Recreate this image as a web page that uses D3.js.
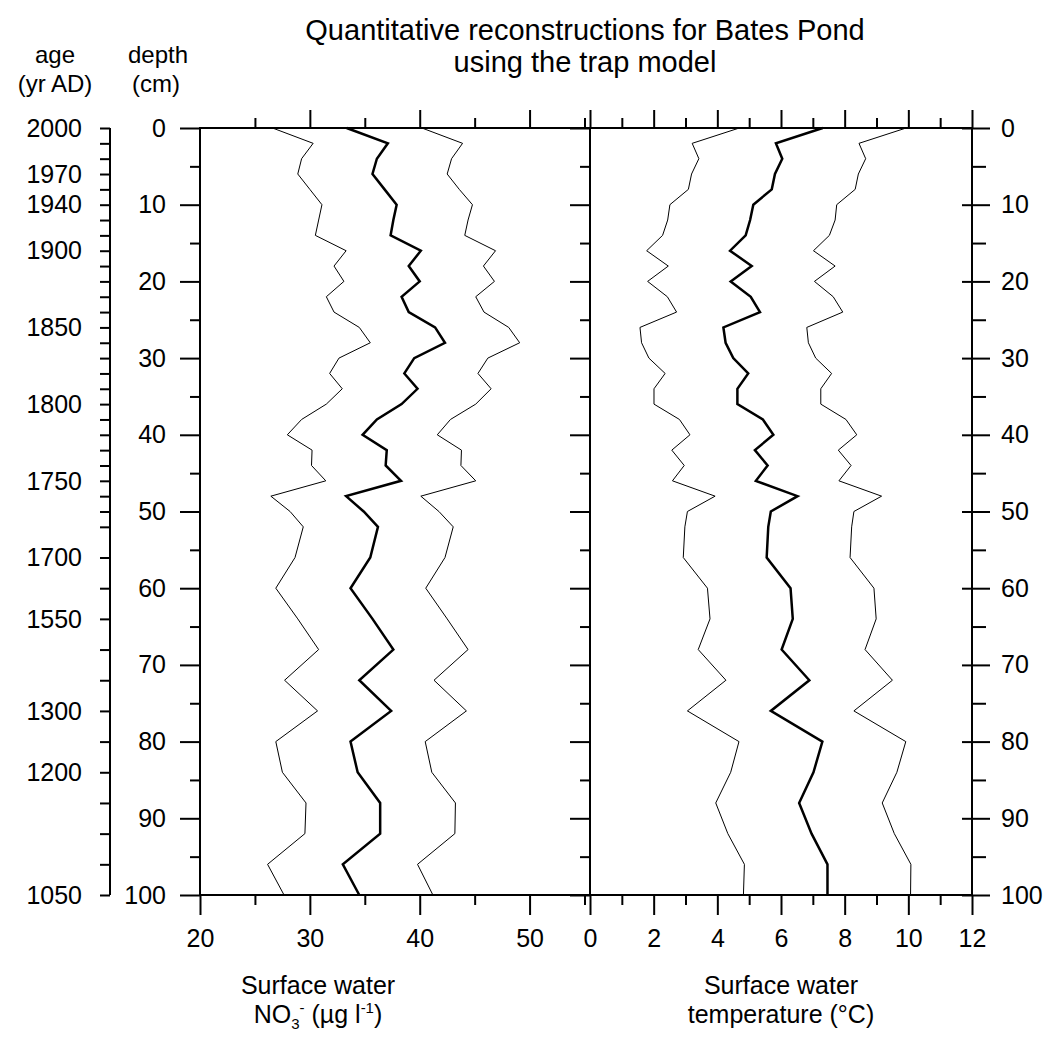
<!DOCTYPE html>
<html>
<head>
<meta charset="utf-8">
<script src="https://cdn.jsdelivr.net/npm/d3@7"></script>
<style>
  html, body { margin: 0; padding: 0; background: #fff; }
  svg { display: block; font-family: "Liberation Sans", Arial, sans-serif; }
</style>
</head>
<body>
<svg id="chart" width="1062" height="1040"></svg>
<script>
// ---- data (depth in cm) ----
const depths = [0,2,4,6,8,10,12,14,16,18,20,22,24,26,28,30,32,34,36,38,40,42,44,46,48,50,52,56,60,64,68,72,76,80,84,88,92,96,100];

const no3Mean  = [33.35,37.1,36.1,35.7,36.8,37.9,37.6,37.35,40.1,39.0,40.0,38.35,39.0,41.4,42.3,39.5,38.6,39.8,38.35,36.1,34.8,37.0,36.9,38.3,33.3,34.9,36.2,35.5,33.7,35.7,37.6,34.5,37.4,33.7,34.35,36.4,36.4,33.0,34.5];
const no3Lower = [26.6,30.3,29.25,28.9,30.0,31.1,30.8,30.5,33.3,32.2,33.1,31.5,32.2,34.5,35.5,32.65,31.8,32.95,31.5,29.25,27.95,30.2,30.15,31.45,26.45,28.2,29.4,28.65,26.9,28.9,30.8,27.7,30.7,26.9,27.5,29.65,29.55,26.15,27.65];
const no3Upper = [40.2,43.9,42.9,42.5,43.6,44.8,44.4,44.1,46.9,45.8,46.8,45.1,45.85,48.1,49.1,46.2,45.3,46.5,45.1,42.8,41.6,43.8,43.75,45.1,40.1,41.75,43.05,42.3,40.55,42.5,44.4,41.3,44.25,40.5,41.1,43.25,43.2,39.8,41.2];

const tempMean  = [7.31,5.84,6.04,5.81,5.71,5.13,5.03,4.89,4.40,5.08,4.42,5.05,5.34,4.19,4.26,4.50,4.97,4.63,4.63,5.43,5.76,5.18,5.58,5.21,6.52,5.68,5.60,5.55,6.30,6.37,6.02,6.89,5.68,7.30,7.02,6.57,6.96,7.46,7.46];
const tempLower = [4.69,3.21,3.42,3.19,3.09,2.51,2.44,2.28,1.78,2.46,1.81,2.43,2.72,1.57,1.62,1.85,2.36,2.01,2.01,2.81,3.14,2.57,2.96,2.59,3.93,3.06,2.98,2.93,3.69,3.77,3.40,4.27,3.06,4.68,4.42,3.95,4.33,4.85,4.82];
const tempUpper = [9.93,8.45,8.66,8.43,8.33,7.75,7.70,7.52,7.02,7.70,7.05,7.64,7.94,6.81,6.86,7.09,7.59,7.25,7.25,8.04,8.38,7.80,8.20,7.82,9.16,8.29,8.22,8.17,8.92,8.99,8.64,9.50,8.29,9.92,9.64,9.18,9.56,10.08,10.07];

// ---- axes / ticks ----
const depthMajor = [0,10,20,30,40,50,60,70,80,90,100];
const depthMinor = [5,15,25,35,45,55,65,75,85,95];
const ageTickDepths = [0,2,4,6,8,10,12,14,16,18,20,22,24,26,28,30,32,34,36,38,40,42,44,46,48,50,52,56,60,64,68,72,76,80,84,88,92,96,100];
const ageLabelDepths = [0,6,10,16,26,36,46,56,64,76,84,100];
const ageLabels = ["2000","1970","1940","1900","1850","1800","1750","1700","1550","1300","1200","1050"];
const no3Major = [20,30,40,50];
const no3Minor = [25,35,45,55];
const tempMajor = [0,2,4,6,8,10,12];
const tempMinor = [1,3,5,7,9,11];

const svg = d3.select("#chart");

const y  = d3.scaleLinear().domain([0,100]).range([128,895]);
const xL = d3.scaleLinear().domain([20,55.5]).range([200,590]);
const xR = d3.scaleLinear().domain([0,12]).range([590,972]);

const FS = 25;
function styleAxis(g, labels) {
  g.select(".domain").remove();
  g.selectAll(".tick line").attr("stroke","#000").attr("stroke-width",2);
  g.selectAll(".tick text").attr("fill","#000").attr("font-size",FS)
    .attr("font-family",'"Liberation Sans", Arial, sans-serif');
  if (!labels) g.selectAll(".tick text").remove();
}
function addAxis(axis, tx, ty, labels) {
  const g = svg.append("g").attr("transform",`translate(${tx},${ty})`).call(axis);
  styleAxis(g, labels);
  return g;
}

// depth axis (left of left panel)
addAxis(d3.axisLeft(y).tickValues(depthMajor).tickSize(20).tickPadding(14), 200, 0, true);
addAxis(d3.axisLeft(y).tickValues(depthMinor).tickSize(10), 200, 0, false);
// inner ticks on right edge of left panel
addAxis(d3.axisLeft(y).tickValues(depthMajor).tickSize(20), 590, 0, false);
addAxis(d3.axisLeft(y).tickValues(depthMinor).tickSize(10), 590, 0, false);
// right-hand depth axis
addAxis(d3.axisRight(y).tickValues(depthMajor).tickSize(18).tickPadding(11), 972, 0, true);
addAxis(d3.axisLeft(y).tickValues(depthMajor).tickSize(10), 972, 0, false);
addAxis(d3.axisRight(y).tickValues(depthMinor).tickSize(14), 972, 0, false);

// top ticks
addAxis(d3.axisTop(xL).tickValues(no3Major.slice(1)).tickSize(18), 0, 128, false);
addAxis(d3.axisTop(xL).tickValues(no3Minor).tickSize(10), 0, 128, false);
addAxis(d3.axisTop(xR).tickValues(tempMajor).tickSize(18), 0, 128, false);
addAxis(d3.axisTop(xR).tickValues(tempMinor).tickSize(10), 0, 128, false);

// bottom axes
addAxis(d3.axisBottom(xL).tickValues(no3Major).tickSize(20).tickPadding(14), 0, 895, true);
addAxis(d3.axisBottom(xL).tickValues(no3Minor).tickSize(10), 0, 895, false);
addAxis(d3.axisBottom(xR).tickValues(tempMajor).tickSize(20).tickPadding(14), 0, 895, true);
addAxis(d3.axisBottom(xR).tickValues(tempMinor).tickSize(10), 0, 895, false);

// age axis
addAxis(d3.axisLeft(y).tickValues(ageTickDepths).tickSize(10), 110, 0, false);
svg.append("line").attr("x1",110).attr("x2",110).attr("y1",y(0)).attr("y2",y(100))
  .attr("stroke","#000").attr("stroke-width",2);
svg.append("g").selectAll("text").data(ageLabels).join("text")
  .attr("x",82).attr("y",(d,i)=>y(ageLabelDepths[i])).attr("dy","0.35em")
  .attr("text-anchor","end").attr("font-size",FS).text(d=>d);

// frames
const frame = svg.append("g").attr("fill","none").attr("stroke","#000").attr("stroke-width",2);
frame.append("rect").attr("x",xL(20)).attr("y",y(0)).attr("width",xR(12)-xL(20)).attr("height",y(100)-y(0));
frame.append("line").attr("x1",xR(0)).attr("x2",xR(0)).attr("y1",y(0)).attr("y2",y(100));

// curves
function drawCurve(x, vals, w) {
  const line = d3.line().x(d=>x(d[1])).y(d=>y(d[0]));
  svg.append("path").datum(depths.map((d,i)=>[d, vals[i]]))
    .attr("d", line).attr("fill","none").attr("stroke","#000")
    .attr("stroke-width", w).attr("stroke-linejoin","miter");
}
drawCurve(xL, no3Lower, 1);
drawCurve(xL, no3Upper, 1);
drawCurve(xL, no3Mean, 2.5);
drawCurve(xR, tempLower, 1);
drawCurve(xR, tempUpper, 1);
drawCurve(xR, tempMean, 2.5);

// titles
const title = svg.append("text").attr("text-anchor","middle").attr("font-size",29);
title.append("tspan").attr("x",585).attr("y",40).text("Quantitative reconstructions for Bates Pond");
title.append("tspan").attr("x",585).attr("y",72).text("using the trap model");

const hdr = svg.append("g").attr("font-size",24).attr("text-anchor","middle");
hdr.append("text").attr("x",55).attr("y",63).text("age");
hdr.append("text").attr("x",55).attr("y",92).text("(yr AD)");
hdr.append("text").attr("x",158).attr("y",63).text("depth");
hdr.append("text").attr("x",156).attr("y",92).text("(cm)");

// x-axis titles
const xt = svg.append("g").attr("font-size",FS).attr("text-anchor","middle");
xt.append("text").attr("x",318).attr("y",994).text("Surface water");
const no3 = xt.append("text").attr("x",318).attr("y",1023);
no3.append("tspan").text("NO");
no3.append("tspan").attr("font-size",15).attr("dy",6).text("3");
no3.append("tspan").attr("font-size",15).attr("dx",0).attr("dy",-16).text("-");
no3.append("tspan").attr("dy",10).text(" (\u00b5g l");
no3.append("tspan").attr("font-size",15).attr("dy",-10).text("-1");
no3.append("tspan").attr("dy",10).text(")");
xt.append("text").attr("x",781).attr("y",994).text("Surface water");
xt.append("text").attr("x",781).attr("y",1023).text("temperature (\u00b0C)");
</script>
</body>
</html>
